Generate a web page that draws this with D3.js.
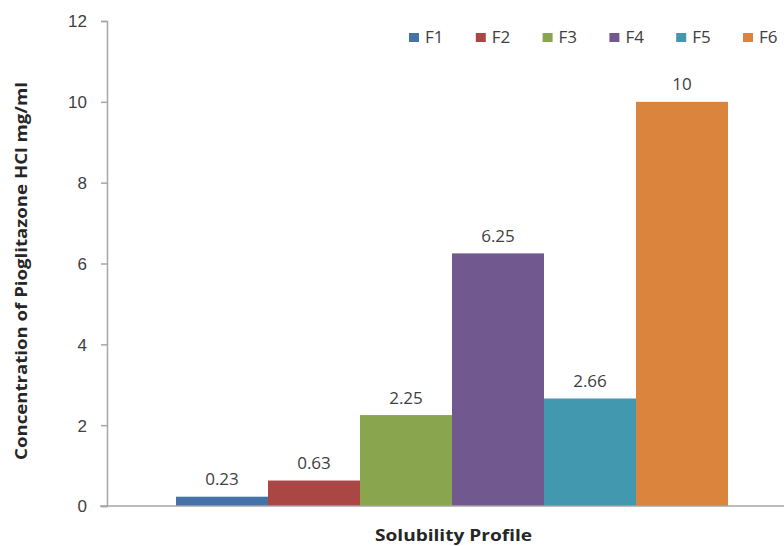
<!DOCTYPE html>
<html>
<head>
<meta charset="utf-8">
<script src="https://cdn.jsdelivr.net/npm/d3@7"></script>
<style>
  html, body { margin: 0; padding: 0; background: #fff; }
  svg { display: block; font-family: "Open Sans", "Noto Sans", sans-serif; }
</style>
</head>
<body>
<svg id="chart" width="784" height="546"></svg>
<script>
// Solubility of Pioglitazone HCl per formulation
const formulations = ["F1", "F2", "F3", "F4", "F5", "F6"];
const solubility = [0.23, 0.63, 2.25, 6.25, 2.66, 10];
const valueLabels = ["0.23", "0.63", "2.25", "6.25", "2.66", "10"];
const colors = ["#4572a7", "#aa4643", "#89a54e", "#71588f", "#4198af", "#db843d"];
const yTicks = [0, 2, 4, 6, 8, 10, 12];

const svg = d3.select("#chart");
const plotLeft = 107, plotRight = 797, plotTop = 21, plotBottom = 506;
const textColor = "#404040";
const axisColor = "#a6a6a6";

const y = d3.scaleLinear().domain([0, 12]).range([plotBottom, plotTop]);

// single category group, bars side by side
const outer = d3.scaleBand().domain(["Solubility Profile"]).range([plotLeft, plotRight]).paddingInner(0).paddingOuter(0.125);
const inner = d3.scaleBand().domain(formulations).range([0, outer.bandwidth()]).padding(0);

// y axis
const yAxis = d3.axisLeft(y).tickValues(yTicks).tickSize(6).tickFormat(d3.format("d"));
const yg = svg.append("g").attr("transform", `translate(${plotLeft},0)`).call(yAxis);
yg.select(".domain").attr("stroke", axisColor).attr("stroke-width", 1.5);
yg.selectAll(".tick line").attr("stroke", axisColor).attr("stroke-width", 1.5);
yg.selectAll(".tick text").attr("fill", textColor).attr("font-size", 17).attr("x", -20).attr("dy", "0.35em");

// bars
const g = svg.append("g").attr("transform", `translate(${outer("Solubility Profile")},0)`);
g.selectAll("rect").data(formulations).join("rect")
  .attr("x", d => inner(d))
  .attr("width", inner.bandwidth())
  .attr("y", (d, i) => y(solubility[i]))
  .attr("height", (d, i) => y(0) - y(solubility[i]))
  .attr("fill", (d, i) => colors[i]);

// value labels
g.selectAll("text.val").data(formulations).join("text")
  .attr("class", "val")
  .attr("x", d => inner(d) + inner.bandwidth() / 2)
  .attr("y", (d, i) => y(solubility[i]) - 11.5)
  .attr("text-anchor", "middle")
  .attr("fill", textColor)
  .attr("font-size", 17)
  .text((d, i) => valueLabels[i]);

// x axis baseline with a short tick at the left
svg.append("line").attr("x1", 100).attr("x2", 784).attr("y1", y(0)).attr("y2", y(0))
  .attr("stroke", axisColor).attr("stroke-width", 1.5);

// axis titles
svg.append("text")
  .attr("transform", `translate(27,271) rotate(-90)`)
  .attr("text-anchor", "middle")
  .attr("font-size", 15.5)
  .attr("font-weight", "bold")
  .attr("fill", "#262626")
  .attr("textLength", 378)
  .attr("lengthAdjust", "spacingAndGlyphs")
  .text("Concentration of Pioglitazone HCl mg/ml");

svg.append("text")
  .attr("x", 453.5).attr("y", 541)
  .attr("text-anchor", "middle")
  .attr("font-size", 16)
  .attr("font-weight", "bold")
  .attr("fill", "#262626")
  .attr("textLength", 157)
  .attr("lengthAdjust", "spacingAndGlyphs")
  .text("Solubility Profile");

// legend
const legend = svg.append("g").attr("transform", "translate(409,33)");
const items = legend.selectAll("g").data(formulations).join("g")
  .attr("transform", (d, i) => `translate(${i * 66.8},0)`);
items.append("rect").attr("width", 10).attr("height", 9).attr("fill", (d, i) => colors[i]);
items.append("text").attr("x", 16).attr("y", 4.5).attr("dy", "0.35em")
  .attr("font-size", 17).attr("fill", textColor).text(d => d);
</script>
</body>
</html>
